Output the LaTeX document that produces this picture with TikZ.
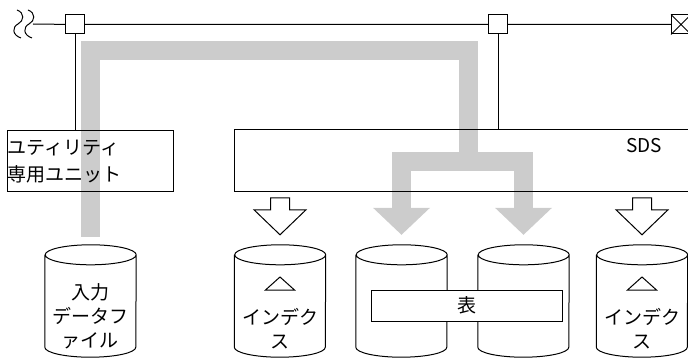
\documentclass[tikz,border=0pt]{standalone}
\usepackage{fontspec}
\newfontfamily\jp{Noto Sans CJK JP}
\usepackage{tikz}
\usetikzlibrary{calc,positioning,backgrounds}
\definecolor{flowc}{RGB}{204,204,204}
\tikzset{
  tap/.style={rectangle,draw=black,fill=white,line width=1pt,minimum size=19pt,inner sep=0pt},
  unitbox/.style={rectangle,draw=black,line width=1pt,inner sep=1pt,font=\jp\fontsize{19}{27}\selectfont},
  % file outline is drawn from the node's corners further down
  dbcyl/.style={rectangle,minimum width=91pt,minimum height=112pt,inner sep=0pt},
  tblbox/.style={rectangle,draw=black,fill=white,line width=1pt,minimum width=191pt,minimum height=31pt,font=\jp\fontsize{19}{24}\selectfont},
  jtxt/.style={font=\jp\fontsize{19}{24}\selectfont,text width=91pt,align=center,inner sep=0pt},
  bus/.style={line width=1pt,black},
  % the wide grey band of the data flow
  flow/.style={line width=19pt,flowc},
  hollow/.style={draw=black,fill=white,line width=1pt,line join=miter},
  lid/.style={x radius=45.5pt,y radius=10pt},
}
\begin{document}
\begin{tikzpicture}[x=1pt,y=-1pt]
  \useasboundingbox (0,0) rectangle (688,358);
  % ---- the bus with its taps ----
  \coordinate (brk) at (33,24);
  \node[tap] (t1) at (75,24.5) {};
  \node[tap] (t2) at (498,24.5) {};
  \node[tap] (tEnd) at (681,24.5) {};
  \draw[bus] (brk) -- (t1) -- (t2) -- (tEnd);
  \draw[bus] (tEnd.north west) -- (tEnd.south east) (tEnd.south west) -- (tEnd.north east);
  \foreach \dx in {0,11}
    \draw[bus] (17+\dx,10) .. controls (25+\dx,13) and (24+\dx,21) .. (18+\dx,24)
      .. controls (12+\dx,27) and (12+\dx,35) .. (21+\dx,38);
  % ---- units ----
  \node[unitbox,text width=164pt,align=left,minimum height=61pt] (util) at (90,161.5) {ユティリティ\\専用ユニット};
  \node[unitbox,minimum width=460pt,minimum height=62pt] (sds) at (464,161) {};
  \node[font=\jp\fontsize{19}{24}\selectfont,inner sep=0pt] (sdsL) at (644,146) {SDS};
  \draw[bus] (t1) -- (t1 |- util.north);
  \draw[bus] (t2) -- (t2 |- sds.north);
  % ---- files ----
  \node[dbcyl] (inp) at (90.5,301) {};
  \node[dbcyl] (idxA) at (280,301) {};
  \node[dbcyl] (tblA) at (401.5,301) {};
  \node[dbcyl] (tblB) at (523.5,301) {};
  \node[dbcyl] (idxB) at (642,301) {};
  \foreach \c in {inp,idxA,tblA,tblB,idxB}
    \draw[bus] ($(\c.north west)+(0,10)$) -- ($(\c.south west)+(0,-10)$)
      arc[start angle=180,end angle=360,lid] -- ($(\c.north east)+(0,10)$)
      arc[start angle=0,end angle=180,lid] arc[start angle=180,end angle=360,lid];
  \node[tblbox] (tbl) at (466.5,305.5) {表};
  \node[jtxt] (inpT) at ($(inp.center)+(0,15)$) {入力\\データフ\\ァイル};
  \foreach \c in {idxA,idxB} {
    \draw[bus,line join=miter] ($(\c.center)+(-14.5,-11)$) -- ++(29,0) -- ++(-14.5,-13) -- cycle;
    \node[jtxt] (\c-txt) at ($(\c.center)+(0,27.5)$) {インデク\\ス};
    \draw[hollow] (\c.north) ++(0,-10) -- ++(-26,-25) -- ++(16.5,0) -- ++(0,-12)
      -- ++(19,0) -- ++(0,12) -- ++(16.5,0) -- cycle;
  }
  % ---- data flow, under the boxes ----
  \begin{scope}[on background layer]
    \coordinate (fc) at (468.5,51);
    \coordinate (fj) at (468.5,162);
    \draw[flow] ($(inp.north)+(0,-8)$) |- (fc) -- (fj);
    \draw[flow] ($(tblA.north)+(0,-37)$) |- (fj) -| ($(tblB.north)+(0,-37)$);
    \foreach \c in {tblA,tblB}
      \fill[flowc] (\c.north) ++(-28.5,-37) -- ++(57,0) -- ++(-28.5,27) -- cycle;
  \end{scope}
\end{tikzpicture}
\end{document}
